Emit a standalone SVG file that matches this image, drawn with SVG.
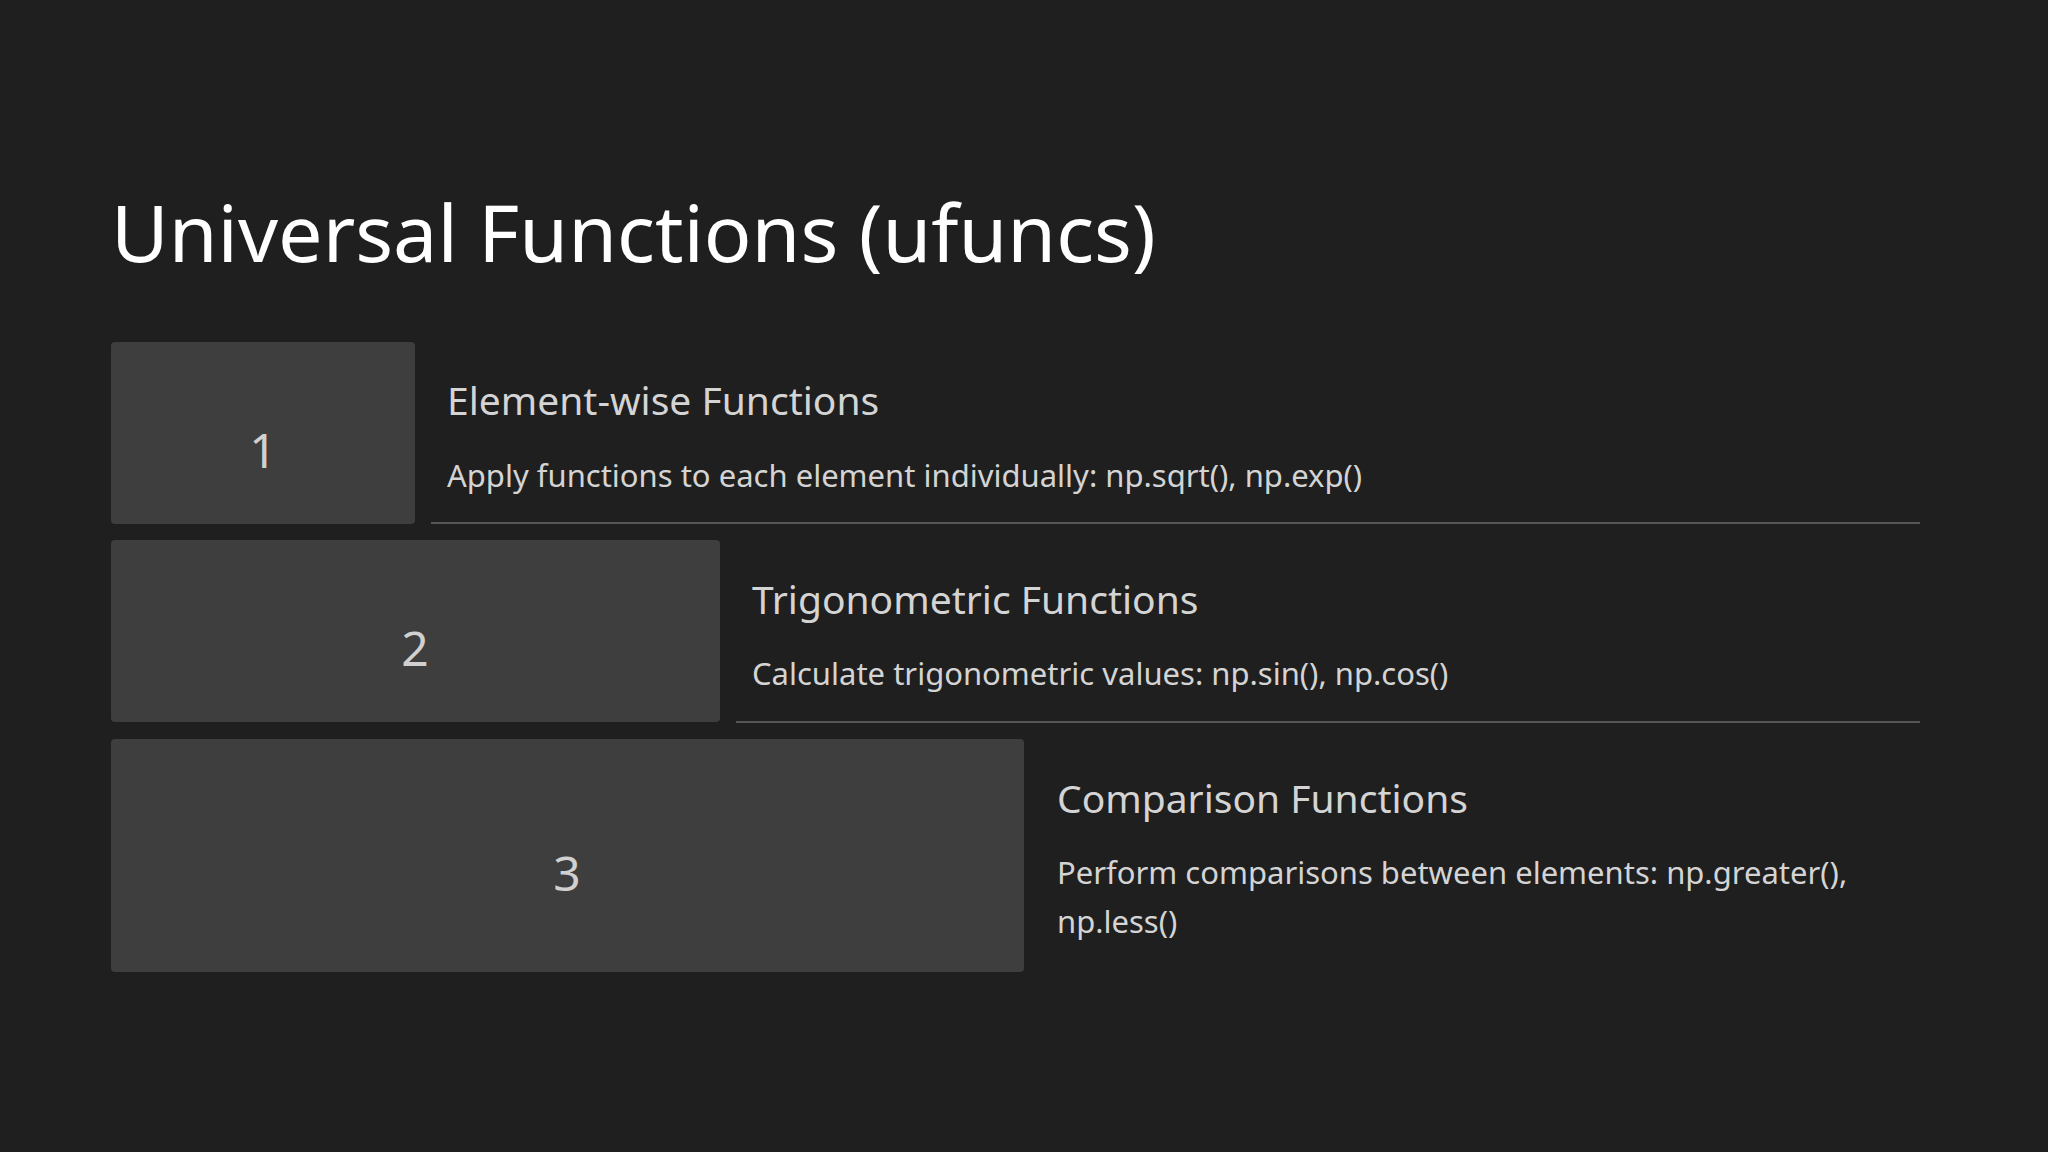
<svg xmlns="http://www.w3.org/2000/svg" width="2048" height="1152" viewBox="0 0 2048 1152">
<style>
.title{font-family:"Noto Sans","Open Sans",sans-serif;font-size:79px;fill:#ffffff}
.box{fill:#3e3e3e}
.num{font-family:"Noto Sans","Open Sans",sans-serif;font-size:48px;fill:#d0d0d0;text-anchor:middle}
.head{font-family:"Noto Sans","Open Sans",sans-serif;font-size:39px;fill:#d4d4d4}
.desc{font-family:"Noto Sans","Open Sans",sans-serif;font-size:31px;fill:#d4d4d4}
.sep{stroke:#555555;stroke-width:2}
</style>
<rect width="2048" height="1152" fill="#1f1f1f"/>
<text class="title" x="111" y="262">Universal Functions (ufuncs)</text>
<g id="step1">
<rect class="box" x="111" y="342" width="304" height="182" rx="4"/>
<text class="num" x="263" y="468">1</text>
<text class="head" x="447" y="415">Element-wise Functions</text>
<text class="desc" x="447" y="487">Apply functions to each element individually: np.sqrt(), np.exp()</text>
</g>
<g id="step2">
<rect class="box" x="111" y="540" width="609" height="182" rx="4"/>
<text class="num" x="415" y="666">2</text>
<text class="head" x="752" y="614">Trigonometric Functions</text>
<text class="desc" x="752" y="685">Calculate trigonometric values: np.sin(), np.cos()</text>
</g>
<g id="step3">
<rect class="box" x="111" y="739" width="913" height="233" rx="4"/>
<text class="num" x="567" y="891">3</text>
<text class="head" x="1057" y="813">Comparison Functions</text>
<text class="desc" x="1057" y="884">Perform comparisons between elements: np.greater(),</text>
<text class="desc" x="1057" y="933">np.less()</text>
</g>
<g id="connectors">
<line class="sep" x1="431" y1="523" x2="1920" y2="523"/>
<line class="sep" x1="736" y1="722" x2="1920" y2="722"/>
</g>
</svg>
